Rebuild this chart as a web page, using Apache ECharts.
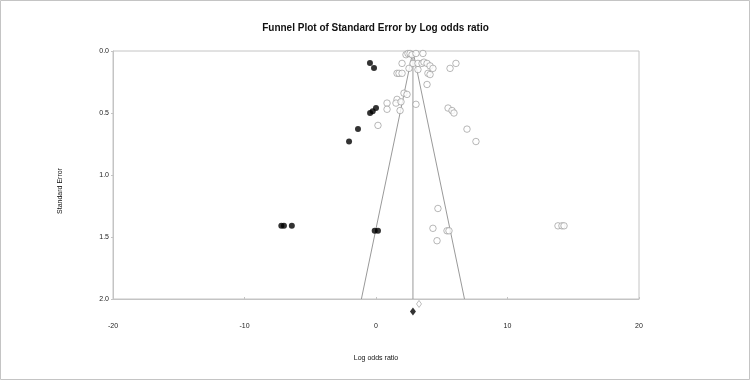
<!DOCTYPE html>
<html>
<head>
<meta charset="utf-8">
<script src="https://cdn.jsdelivr.net/npm/echarts@6/dist/echarts.min.js"></script>
<style>
  html, body { margin: 0; padding: 0; background: #fff; }
  #chart { width: 751px; height: 381px; }
</style>
</head>
<body>
<div id="chart"></div>
<script>
// observed studies (open circles)
const obsLogOR = [2.28, 2.43, 2.59, 2.74, 3.04, 3.57, 1.98, 2.51, 2.81, 3.19, 3.19, 3.50, 3.65, 3.88, 4.11, 4.33,
                  1.60, 1.75, 1.98, 3.95, 4.11, 5.63, 6.08, 3.88, 2.13, 2.36, 0.84, 1.60, 1.52, 1.90, 0.84, 1.83,
                  3.04, 5.48, 5.78, 5.93, 0.15, 6.92, 7.60, 4.71, 4.33, 5.40, 5.55, 4.64, 13.84, 14.14, 14.30];
const obsSE    = [0.03, 0.02, 0.02, 0.03, 0.02, 0.02, 0.10, 0.14, 0.10, 0.10, 0.15, 0.10, 0.09, 0.10, 0.12, 0.14,
                  0.18, 0.18, 0.18, 0.18, 0.19, 0.14, 0.10, 0.27, 0.34, 0.35, 0.42, 0.39, 0.42, 0.41, 0.47, 0.48,
                  0.43, 0.46, 0.48, 0.50, 0.60, 0.63, 0.73, 1.27, 1.43, 1.45, 1.45, 1.53, 1.41, 1.41, 1.41];

// imputed studies (filled circles)
const impLogOR = [-0.46, -0.15, -0.45, -0.25, 0.0, -1.37, -2.05, -7.2, -7.0, -6.4, -0.1, 0.15];
const impSE    = [0.097, 0.137, 0.50, 0.485, 0.46, 0.63, 0.73, 1.41, 1.41, 1.41, 1.45, 1.45];

// combined estimates
const observedPooled = [3.27, 2.04];
const adjustedPooled = [2.81, 2.10];
const funnelCentre = 2.81;
const maxSE = 2.0;

const xTicks = [-20, -10, 0, 10, 20];
const yTicks = [0.0, 0.5, 1.0, 1.5, 2.0];

const grey = '#c4c4c4';
const font = 'Liberation Sans, Arial, sans-serif';
const chart = echarts.init(document.getElementById('chart'));

const option = {
    animation: false,
    backgroundColor: '#fff',
    textStyle: { fontFamily: font },
    title: {
        text: 'Funnel Plot of Standard Error by Log odds ratio',
        left: 'center',
        top: 18,
        textStyle: { fontSize: 10, fontWeight: 'bold', color: '#111', fontFamily: font }
    },
    grid: { left: 113, right: 112, top: 51, bottom: 82, show: true, borderColor: grey, borderWidth: 1 },
    xAxis: {
        type: 'value', min: xTicks[0], max: xTicks[xTicks.length - 1], interval: 10,
        name: 'Log odds ratio', nameLocation: 'middle', nameGap: 56,
        nameTextStyle: { fontSize: 7, color: '#111' },
        axisLine: { show: true, onZero: false, lineStyle: { color: grey } },
        axisTick: { show: true, inside: true, length: 2, lineStyle: { color: grey } },
        axisLabel: { fontSize: 7, color: '#222', margin: 24 },
        splitLine: { show: false }
    },
    yAxis: {
        type: 'value', inverse: true, min: yTicks[0], max: yTicks[yTicks.length - 1], interval: 0.5,
        axisLine: { show: true, onZero: false, lineStyle: { color: grey } },
        axisTick: { show: true, length: 2, lineStyle: { color: grey } },
        axisLabel: { fontSize: 7, color: '#222', margin: 4, formatter: v => v.toFixed(1) },
        splitLine: { show: false }
    },
    graphic: [
        {
            type: 'rect', silent: true,
            shape: { x: 0.5, y: 0.5, width: 749, height: 379 },
            style: { fill: 'none', stroke: grey, lineWidth: 1 }
        },
        {
            type: 'text', silent: true, x: 60, y: 191, rotation: Math.PI / 2,
            style: { text: 'Standard Error', fontSize: 7, fill: '#111', align: 'center', verticalAlign: 'middle', fontFamily: font }
        }
    ],
    series: [
        {
            type: 'line', silent: true, symbol: 'none',
            lineStyle: { color: '#999', width: 1 },
            data: [[funnelCentre, 0], [funnelCentre, maxSE]]
        },
        {
            type: 'line', silent: true, symbol: 'none',
            lineStyle: { color: '#999', width: 1 },
            data: [[funnelCentre - 1.96 * maxSE, maxSE], [funnelCentre, 0], [funnelCentre + 1.96 * maxSE, maxSE]]
        },
        {
            type: 'scatter', symbol: 'circle', symbolSize: 6.5,
            itemStyle: { color: '#fff', borderColor: '#8f8f8f', borderWidth: 0.8 },
            data: obsLogOR.map((v, i) => [v, obsSE[i]]),
            z: 3
        },
        {
            type: 'scatter', symbol: 'circle', symbolSize: 6,
            itemStyle: { color: '#000' },
            data: impLogOR.map((v, i) => [v, impSE[i]]),
            z: 4
        },
        {
            type: 'scatter', symbol: 'diamond', symbolSize: [5, 7],
            itemStyle: { color: '#fff', borderColor: '#999', borderWidth: 0.8 },
            data: [observedPooled], clip: false
        },
        {
            type: 'scatter', symbol: 'diamond', symbolSize: [6, 8],
            itemStyle: { color: '#000' },
            data: [adjustedPooled], clip: false
        }
    ]
};
chart.setOption(option);
</script>
</body>
</html>
